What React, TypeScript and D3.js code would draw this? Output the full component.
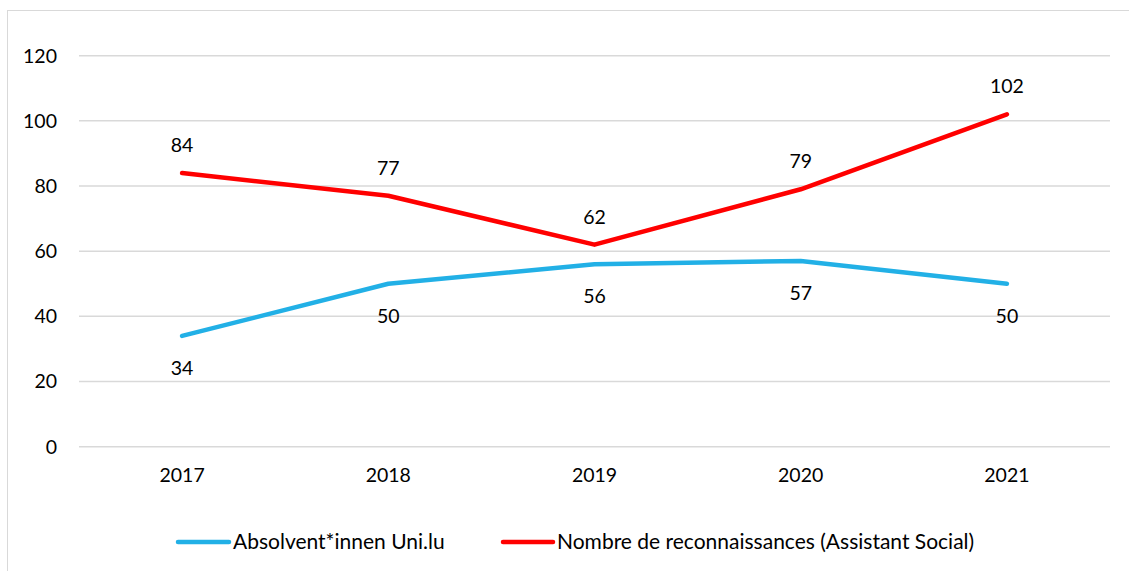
import React from "react";
import * as d3 from "d3";

const years = ["2017", "2018", "2019", "2020", "2021"];
const absolventen = [34, 50, 56, 57, 50];
const reconnaissances = [84, 77, 62, 79, 102];
const yTicks = [0, 20, 40, 60, 80, 100, 120];
const seriesNames = ["Absolvent*innen Uni.lu", "Nombre de reconnaissances (Assistant Social)"];

const W = 1129;
const H = 571;
const FONT = "Lato, 'Open Sans', sans-serif";
const FS = 19.5;
const LFS = 21;

export default function App() {
  const x = d3.scaleBand<string>().domain(years).range([79, 1110]);
  const y = d3.scaleLinear().domain([0, 120]).range([446.7, 55.7]);
  const line = d3
    .line<number>()
    .x((_, i) => (x(years[i]) as number) + x.bandwidth() / 2)
    .y((d) => y(d));

  const series = [
    { name: seriesNames[0], values: absolventen, color: "#22B0E6", above: false },
    { name: seriesNames[1], values: reconnaissances, color: "#FF0000", above: true },
  ];

  return (
    <svg
      width={W}
      height={H}
      style={{ position: "absolute", left: 0, top: 0, background: "#fff" }}
      fontFamily={FONT}
    >
      <rect x={7.5} y={10.5} width={1140} height={580} fill="#fff" stroke="#d9d9d9" strokeWidth={1} />
      {yTicks.map((t) => (
        <g key={t}>
          <line x1={79} x2={1110} y1={y(t)} y2={y(t)} stroke="#d9d9d9" strokeWidth={1.5} />
          <text x={57} y={y(t)} dy="0.35em" textAnchor="end" fontSize={FS} fill="#000">
            {t}
          </text>
        </g>
      ))}
      {years.map((yr) => (
        <text
          key={yr}
          x={(x(yr) as number) + x.bandwidth() / 2}
          y={482}
          textAnchor="middle"
          fontSize={FS}
          fill="#000"
        >
          {yr}
        </text>
      ))}
      {series.map((s) => (
        <g key={s.name}>
          <path
            d={line(s.values) || ""}
            fill="none"
            stroke={s.color}
            strokeWidth={4.5}
            strokeLinecap="round"
            strokeLinejoin="round"
          />
          {s.values.map((v, i) => (
            <text
              key={i}
              x={(x(years[i]) as number) + x.bandwidth() / 2}
              y={s.above ? y(v) - 21 : y(v) + 39}
              textAnchor="middle"
              fontSize={FS}
              fill="#000"
            >
              {v}
            </text>
          ))}
        </g>
      ))}
      <g>
        <line x1={178} x2={229} y1={542} y2={542} stroke={series[0].color} strokeWidth={4.5} strokeLinecap="round" />
        <text x={233} y={549} fontSize={LFS} fill="#000">
          {series[0].name}
        </text>
        <line x1={503} x2={553} y1={542} y2={542} stroke={series[1].color} strokeWidth={4.5} strokeLinecap="round" />
        <text x={557} y={549} fontSize={LFS} fill="#000">
          {series[1].name}
        </text>
      </g>
    </svg>
  );
}
